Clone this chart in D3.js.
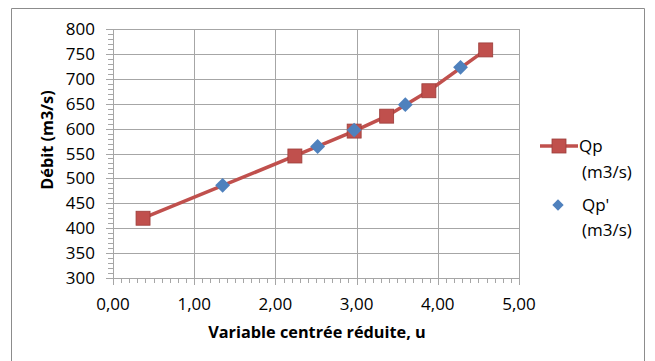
<!DOCTYPE html>
<html>
<head>
<meta charset="utf-8">
<script src="https://cdn.jsdelivr.net/npm/d3@7/dist/d3.min.js"></script>
<style>
  html, body { margin: 0; padding: 0; background: #fff; }
  svg { display: block; }
  text { font-family: "Open Sans", "Noto Sans", sans-serif; fill: #000; }
</style>
</head>
<body>
<svg id="chart" width="655" height="361"></svg>
<script>
// Qp (m3/s): fitted discharge against reduced variable u
const qpU = [0.37, 2.24, 2.97, 3.37, 3.89, 4.59];
const qpValues = [420, 545, 595, 625, 676, 758];

// Qp' (m3/s): observed discharges
const qpPrimeU = [1.35, 2.52, 2.97, 3.60, 4.28];
const qpPrimeValues = [486, 564, 597, 648, 723];

const xTicks = [0, 1, 2, 3, 4, 5];
const yTicks = [300, 350, 400, 450, 500, 550, 600, 650, 700, 750, 800];
const seriesNames = ["Qp", "Qp'"];
const unitLabel = "(m3/s)";
const xTitle = "Variable centrée réduite, u";
const yTitle = "Débit (m3/s)";

const svg = d3.select("#chart");
const red = "#C0504D", redDark = "#9B3D3A", blue = "#4F81BD", grid = "#A6A6A6";

// chart frame
svg.append("path")
  .attr("d", "M11.5,362 V8.5 H644.5 V362")
  .attr("fill", "none").attr("stroke", "#8c8c8c").attr("stroke-width", 1);

const x = d3.scaleLinear().domain([0, 5]).range([113, 519]);
const y = d3.scaleLinear().domain([300, 800]).range([278, 29]);

// gridlines
const g = svg.append("g");
g.selectAll("line.hg").data(yTicks.slice(1)).join("line")
  .attr("x1", x(0)).attr("x2", x(5))
  .attr("y1", d => Math.round(y(d)) + 0.5).attr("y2", d => Math.round(y(d)) + 0.5)
  .attr("stroke", grid);
g.selectAll("line.vg").data(xTicks.slice(1)).join("line")
  .attr("y1", y(800)).attr("y2", y(300))
  .attr("x1", d => Math.round(x(d)) + 0.5).attr("x2", d => Math.round(x(d)) + 0.5)
  .attr("stroke", grid);

// axes with minor ticks
const xMinor = d3.range(0, 5.0001, 0.1);
const yMinor = d3.range(300, 800.001, 10);
const ax = svg.append("g").attr("stroke", grid);
ax.append("line").attr("x1", x(0)).attr("x2", x(5))
  .attr("y1", Math.round(y(300)) + 0.5).attr("y2", Math.round(y(300)) + 0.5);
ax.append("line").attr("y1", y(800)).attr("y2", y(300) + 7)
  .attr("x1", Math.round(x(0)) + 0.5).attr("x2", Math.round(x(0)) + 0.5);
ax.selectAll("line.xm").data(xMinor).join("line")
  .attr("x1", d => Math.round(x(d)) + 0.5).attr("x2", d => Math.round(x(d)) + 0.5)
  .attr("y1", y(300)).attr("y2", (d, i) => y(300) + (i % 10 === 0 ? 7 : 5));
ax.selectAll("line.ym").data(yMinor).join("line")
  .attr("y1", d => Math.round(y(d)) + 0.5).attr("y2", d => Math.round(y(d)) + 0.5)
  .attr("x1", x(0)).attr("x2", (d, i) => x(0) - (i % 5 === 0 ? 7 : 5));

// tick labels
const fmt = d => d.toFixed(2).replace(".", ",");
svg.selectAll("text.xt").data(xTicks).join("text")
  .attr("x", d => x(d)).attr("y", 310)
  .attr("text-anchor", "middle").attr("font-size", 17).text(fmt);
svg.selectAll("text.yt").data(yTicks).join("text")
  .attr("x", 95).attr("y", d => y(d) + 6)
  .attr("text-anchor", "end").attr("font-size", 17).text(d => d);

// axis titles
svg.append("text").attr("x", 317).attr("y", 338)
  .attr("text-anchor", "middle").attr("font-weight", "bold").attr("font-size", 16.3)
  .text(xTitle);
svg.append("text").attr("transform", "translate(53,140) rotate(-90)")
  .attr("text-anchor", "middle").attr("font-weight", "bold").attr("font-size", 16.3)
  .text(yTitle);

// Qp series: line with square markers
const line = d3.line().x(d => x(d[0])).y(d => y(d[1]));
const qp = d3.zip(qpU, qpValues);
svg.append("path").datum(qp).attr("d", line)
  .attr("fill", "none").attr("stroke", red).attr("stroke-width", 3.5);
const sq = 14;
svg.selectAll("rect.qp").data(qp).join("rect")
  .attr("x", d => x(d[0]) - sq / 2).attr("y", d => y(d[1]) - sq / 2)
  .attr("width", sq).attr("height", sq)
  .attr("fill", red).attr("stroke", redDark).attr("stroke-width", 0.8);

// Qp' series: diamond markers only
const diamond = d3.symbol().type(d3.symbolSquare).size(110);
const qpp = d3.zip(qpPrimeU, qpPrimeValues);
svg.selectAll("path.qpp").data(qpp).join("path")
  .attr("d", diamond)
  .attr("transform", d => `translate(${x(d[0])},${y(d[1])}) rotate(45)`)
  .attr("fill", blue);

// legend
const lg = svg.append("g");
lg.append("line").attr("x1", 540).attr("x2", 578).attr("y1", 146).attr("y2", 146)
  .attr("stroke", red).attr("stroke-width", 3.5);
lg.append("rect").attr("x", 559 - 7).attr("y", 146 - 7).attr("width", 14).attr("height", 14)
  .attr("fill", red).attr("stroke", redDark).attr("stroke-width", 0.8);
lg.append("path").attr("d", d3.symbol().type(d3.symbolSquare).size(64))
  .attr("transform", "translate(558,205) rotate(45)").attr("fill", blue);
const legendRows = [[seriesNames[0], 152], [unitLabel, 178], [seriesNames[1], 211], [unitLabel, 236]];
lg.selectAll("text").data(legendRows).join("text")
  .attr("x", d => d[0] === seriesNames[0] ? 579 : 582).attr("y", d => d[1])
  .attr("font-size", 17).text(d => d[0]);
</script>
</body>
</html>
